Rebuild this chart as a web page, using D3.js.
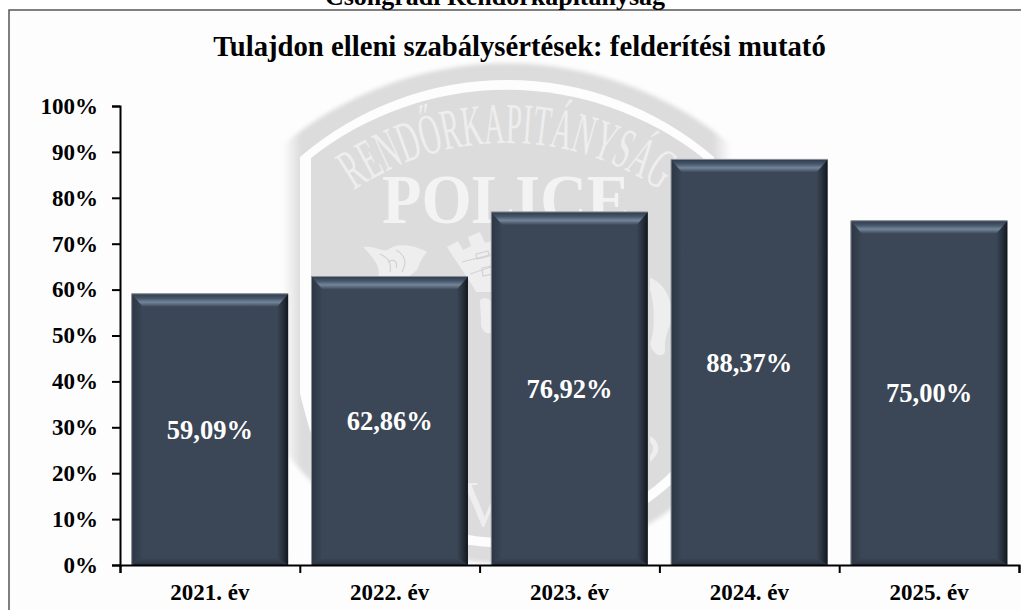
<!DOCTYPE html>
<html>
  <head>
    <meta charset="utf-8">
    <title>Felderítési mutató</title>
    <script src="https://d3js.org/d3.v7.min.js"></script>
    <style type="text/css">
      html, body { margin: 0; padding: 0; background: #fff; overflow: hidden; }
      svg { display: block; }
      text { font-family: "Liberation Serif", serif; font-weight: bold; }
    </style>
  </head>
  <body>
    <div id="chart"></div>
    <script>
      // chart data
      var years = ["2021. év", "2022. év", "2023. év", "2024. év", "2025. év"];
      var rates = [59.09, 62.86, 76.92, 88.37, 75.00];
      var yTicks = [0, 10, 20, 30, 40, 50, 60, 70, 80, 90, 100];
      var pageTitle = "Csongrádi Rendőrkapitányság";
      var chartTitle = "Tulajdon elleni szabálysértések: felderítési mutató";

      var width = 1021, height = 610;
      var svg = d3.select("#chart").append("svg").attr("width", width).attr("height", height);
      var defs = svg.append("defs");

      function gradient(id, x2, y2, stops) {
        var g = defs.append("linearGradient").attr("id", id)
          .attr("x1", 0).attr("y1", 0).attr("x2", x2).attr("y2", y2);
        stops.forEach(function(s) {
          g.append("stop").attr("offset", s[0]).attr("stop-color", s[1]);
        });
      }
      // bevel colours
      gradient("bevelTop", 0, 1, [[0, "#2f3a49"], [0.35, "#46566a"], [0.65, "#73859a"], [1, "#3c4757"]]);
      gradient("bevelRight", 1, 0, [[0, "#3b4656"], [0.45, "#2a3440"], [1, "#12171d"]]);
      gradient("bevelLeft", 1, 0, [[0, "#2c3644"], [1, "#3b4656"]]);
      gradient("bevelBottom", 0, 1, [[0, "#3b4656"], [1, "#2a323e"]]);
      gradient("shieldFade", 1, 0, [[0, "#fdfdfd"], [0.04, "#dcdcdc"], [0.96, "#dcdcdc"], [1, "#fdfdfd"]]);
      defs.append("filter").attr("id", "soft").append("feGaussianBlur").attr("stdDeviation", 2);

      // page title cut by the top of the picture, frame behind the chart
      svg.append("rect").attr("x", 9).attr("y", 10).attr("width", width + 20).attr("height", height + 20)
        .attr("fill", "#fdfdfd").attr("stroke", "#555").attr("stroke-width", 1.5);
      svg.append("text").attr("x", 495).attr("y", 5).attr("text-anchor", "middle")
        .style("font-size", "26px").attr("fill", "#000").text(pageTitle);

      // police badge watermark
      var badge = svg.append("g");
      badge.append("path").attr("fill", "url(#shieldFade)").attr("filter", "url(#soft)")
        .attr("d", "M283,145 A348,348 0 0 1 731,145 L731,448 A275,275 0 0 1 283,448 Z");
      badge.append("path").attr("fill", "#fdfdfd")
        .attr("d", "M300,157 A317,317 0 0 1 714,157 L714,393 Q708,420 694,461 A245,245 0 0 1 320,461 Q306,420 300,393 Z");
      badge.append("path").attr("fill", "#dcdcdc")
        .attr("d", "M311,158 A316,316 0 0 1 703,158 L703,433 A235,235 0 0 1 311,433 Z");

      // curved badge text, letter by letter so the glyphs can be narrowed
      var badgeText = "RENDŐRKAPITÁNYSÁG".split("");
      var ctx = document.createElement("canvas").getContext("2d");
      ctx.font = "58px 'Liberation Serif'";
      var squeeze = 0.5, arcR = 271, arcX = 507, arcY = 414;
      var advance = badgeText.map(function(c) { return ctx.measureText(c).width * squeeze; });
      var total = d3.sum(advance), run = 0;
      badgeText.forEach(function(c, i) {
        var mid = run + advance[i] / 2 - total / 2;
        run += advance[i];
        badge.append("text")
          .attr("transform", "translate(" + arcX + "," + arcY + ") rotate(" + (mid / arcR * 180 / Math.PI) + ") translate(0," + (-arcR) + ") scale(" + squeeze + ",1)")
          .attr("text-anchor", "middle").attr("fill", "#eeeeee")
          .style("font-size", "58px").style("font-weight", "normal").text(c);
      });
      badge.append("text").attr("x", 506).attr("y", 223).attr("text-anchor", "middle")
        .attr("textLength", 248).attr("lengthAdjust", "spacingAndGlyphs").attr("fill", "#f3f3f3")
        .style("font-size", "70px").text("POLICE");
      badge.append("text").attr("x", 483).attr("y", 526).attr("text-anchor", "middle").attr("fill", "#eeeeee")
        .style("font-size", "66px").style("font-weight", "normal").text("V");

      // griffin, tower and the bits of ornament that show between the bars
      var ornaments = [
        "M363,247 C374,245 382,252 388,250 C394,244 410,243 427,252 C422,258 420,262 417,270 L410,276 L378,276 C382,268 372,256 363,247 Z",
        "M447,247 L458,241 L463,250 L471,246 L468,237 L480,232 L485,243 L494,240 L494,292 L476,292 C470,280 456,262 447,247 Z",
        "M480,300 C484,296 490,298 493,304 L493,332 C486,336 480,330 481,320 Z",
        "M650,278 C662,282 672,296 673,318 C668,330 664,338 665,352 C660,360 652,352 650,344 C656,330 654,300 650,290 Z",
        "M650,436 C660,442 662,452 650,462 L650,456 C654,450 654,446 650,442 Z"
      ];
      badge.selectAll("path.ornament").data(ornaments).enter().append("path")
        .attr("class", "ornament").attr("fill", "#eeeeee").attr("d", function(d) { return d; });
      // engraved lines on the griffin and the tower
      var engraving = [
        "M380,254 C388,258 392,262 390,272",
        "M396,250 C404,254 408,262 402,272",
        "M388,262 C394,258 398,262 396,268",
        "M462,262 L494,254",
        "M470,274 L494,266",
        "M476,254 L488,251 L489,256 L477,259 Z",
        "M482,268 L492,266 L493,274 L483,276 Z"
      ];
      badge.selectAll("path.engraving").data(engraving).enter().append("path")
        .attr("class", "engraving").attr("fill", "none").attr("stroke", "#d2d2d2").attr("stroke-width", 1.2)
        .attr("d", function(d) { return d; });

      // scales
      var x = d3.scaleBand().domain(years).range([120, 1019]).paddingInner(0.13).paddingOuter(0.065);
      var y = d3.scaleLinear().domain([0, 100]).range([565, 106]);

      // bars with a bevelled edge
      var bevelTop = 13, bevelSide = 11, bevelBase = 7;
      var bars = svg.selectAll("g.bar").data(years).enter().append("g").attr("class", "bar");
      bars.each(function(d, i) {
        var g = d3.select(this);
        var x0 = x(d), x1 = x0 + x.bandwidth(), y0 = y(rates[i]), y1 = y(0);
        var xa = x0 + bevelSide, xb = x1 - bevelSide, ya = y0 + bevelTop, yb = y1 - bevelBase;
        g.append("rect").attr("x", x0).attr("y", y0).attr("width", x1 - x0).attr("height", y1 - y0)
          .attr("fill", "#3b4656");
        g.append("path").attr("fill", "url(#bevelLeft)")
          .attr("d", d3.line()([[x0, y0], [xa, ya], [xa, yb], [x0, y1]]) + "Z");
        g.append("path").attr("fill", "url(#bevelRight)")
          .attr("d", d3.line()([[x1, y0], [xb, ya], [xb, yb], [x1, y1]]) + "Z");
        g.append("path").attr("fill", "url(#bevelBottom)")
          .attr("d", d3.line()([[x0, y1], [xa, yb], [xb, yb], [x1, y1]]) + "Z");
        g.append("path").attr("fill", "url(#bevelTop)")
          .attr("d", d3.line()([[x0, y0], [x1, y0], [xb, ya], [xa, ya]]) + "Z");
        // light hairline on the left and top edge
        g.append("path").attr("fill", "none").attr("stroke", "#8d939b").attr("stroke-width", 1)
          .attr("d", d3.line()([[x0, y1], [x0, y0], [x1, y0]]));
      });

      // value labels sit in the middle of each bar
      svg.selectAll("text.value").data(rates).enter().append("text")
        .attr("class", "value")
        .attr("x", function(d, i) { return x(years[i]) + x.bandwidth() / 2; })
        .attr("y", function(d) { return (y(d) + y(0)) / 2 + 1; })
        .attr("dy", "0.32em").attr("text-anchor", "middle").attr("fill", "#fff")
        .style("font-size", "26.5px")
        .text(function(d) { return d.toFixed(2).replace(".", ",") + "%"; });

      // axes
      var yAxis = d3.axisLeft(y).tickValues(yTicks).tickSize(8).tickPadding(14)
        .tickFormat(function(d) { return d + "%"; });
      var gy = svg.append("g").attr("transform", "translate(120,0)").call(yAxis);
      gy.selectAll("text").style("font-size", "23px").attr("fill", "#000");

      var tickPos = d3.range(years.length + 1).map(function(i) { return 120 + i * x.step(); });
      var xAxis = d3.axisBottom(d3.scaleLinear().domain([120, 1019]).range([120, 1019]))
        .tickValues(tickPos).tickSize(8).tickFormat("");
      var gx = svg.append("g").attr("transform", "translate(0,565)").call(xAxis);

      svg.selectAll(".domain, .tick line").attr("stroke", "#000").attr("stroke-width", 2);

      svg.selectAll("text.year").data(years).enter().append("text")
        .attr("class", "year")
        .attr("x", function(d) { return x(d) + x.bandwidth() / 2; })
        .attr("y", 600).attr("text-anchor", "middle").attr("fill", "#000")
        .style("font-size", "23px").text(function(d) { return d; });

      // chart title
      svg.append("text").attr("x", 519.5).attr("y", 56).attr("text-anchor", "middle")
        .attr("fill", "#000").style("font-size", "28.7px").text(chartTitle);
    </script>
  </body>
</html>
